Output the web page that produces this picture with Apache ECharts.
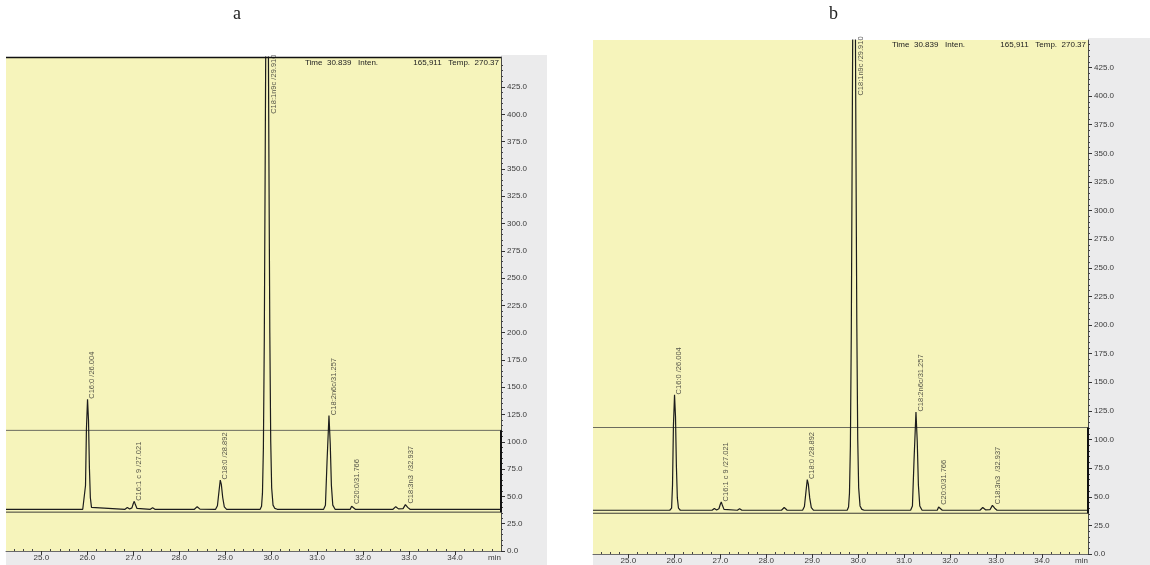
<!DOCTYPE html>
<html>
<head>
<meta charset="utf-8">
<script src="https://cdn.jsdelivr.net/npm/echarts@6/dist/echarts.min.js"></script>
<style>
  html, body { margin: 0; padding: 0; background: #ffffff; }
  #chart { width: 1150px; height: 565px; }
</style>
</head>
<body>
<div id="chart"></div>
<script>
// Retention time (min) and detector signal of the FAME chromatogram
const TIME = [
  24.23, 25.90, 25.94, 25.96, 25.98, 26.004, 26.025, 26.045, 26.065, 26.09, 26.13,
  26.82, 26.87, 26.92, 26.97, 27.00, 27.021, 27.045, 27.08, 27.12,
  27.37, 27.42, 27.47,
  28.33, 28.39, 28.45,
  28.79, 28.83, 28.865, 28.892, 28.915, 28.945, 28.98, 29.03,
  29.76, 29.79, 29.81, 29.83, 29.85, 29.87, 29.89, 29.910, 29.93, 29.95, 29.97, 29.99, 30.01, 30.04, 30.08, 30.13,
  30.30, 30.33, 30.36,
  31.14, 31.18, 31.215, 31.257, 31.285, 31.31, 31.34, 31.39,
  31.72, 31.75, 31.766, 31.79, 31.83,
  32.65, 32.71, 32.77,
  32.87, 32.92, 32.937, 32.97, 33.02,
  35.00
];
const SIGNAL = [
  38.2, 38.2, 40, 60, 112, 139, 120, 76, 49, 40, 38.2,
  38.2, 39.8, 38.5, 39.5, 43.5, 45.5, 42.5, 39, 38.2,
  38.2, 39.6, 38.2,
  38.2, 40.6, 38.4,
  38.2, 41.5, 55, 65, 61, 49, 40.5, 38.2,
  38.2, 41, 53, 94, 194, 362, 541, 620, 541, 362, 200, 100, 58, 42, 39, 38.2,
  38.2, 39.2, 38.2,
  38.2, 42, 82, 124, 98, 60, 42, 38.2,
  38.2, 41, 42.5, 40.5, 38.2,
  38.2, 40.6, 38.6,
  38.8, 42.5, 43, 40, 38.2,
  38.2
];

// Integrated peaks: name / retention time, where the name is written
const PEAK_NAMES = [
  'C16:0 /26.004', 'C16:1 c 9 /27.021', 'C18:0 /28.892', 'C18:1n9c /29.910',
  'C18:2n6c/31.257', 'C20:0/31.766', 'C18:3n3  /32.937'
];
const PEAK_TIMES = [26.004, 27.021, 28.892, 29.910, 31.257, 31.766, 32.937];
const PEAK_LABEL_LEVEL = [139, 45.5, 65, 400, 124, 42.5, 43];

// Level lines drawn across the trace window
const UPPER_LEVEL = 110.5;
const LOWER_LEVEL = 35.6;

// Axis ticks
const X_RANGE = [24.23, 35.0];
const X_TICKS = [25, 26, 27, 28, 29, 30, 31, 32, 33, 34];
const X_UNIT = 'min';
const Y_TICKS = [0, 25, 50, 75, 100, 125, 150, 175, 200, 225, 250, 275, 300, 325, 350, 375, 400, 425];
const Y_TOPS = [452.5, 449];

// Status line of the acquisition window
const STATUS_LEFT = 'Time  30.839   Inten.';
const STATUS_RIGHT = '165,911   Temp.  270.37';
const PANEL_TITLES = ['a', 'b'];

const minorX = [];
for (let v = 24.4; v < X_RANGE[1] + 1e-6; v += 0.2) {
  const r = Math.round(v * 10) / 10;
  if (Math.abs(r - Math.round(r)) > 1e-6) minorX.push(r);
}
const minorY = [];
for (let v = 5; v <= 450; v += 5) if (v % 25 !== 0) minorY.push(v);

const FONT = '"Liberation Sans", Arial, sans-serif';
const YELLOW = '#f6f4bb';
const FRAME_GRAY = '#ebebec';

const panels = [
  { left: 6,   top: 57, width: 495, height: 494, titleX: 238, statusY: 58, topRule: true },
  { left: 593, top: 40, width: 495, height: 514, titleX: 834, statusY: 40, topRule: false }
];

const trace = TIME.map((t, i) => [t, SIGNAL[i]]);

const grid = [], xAxis = [], yAxis = [], series = [], graphic = [];

panels.forEach((p, g) => {
  const right = p.left + p.width;
  const bottom = p.top + p.height;

  grid.push({
    left: p.left, top: p.top, width: p.width, height: p.height,
    show: true, backgroundColor: YELLOW, borderWidth: 0
  });

  // major x ticks with labels
  xAxis.push({
    gridIndex: g, type: 'value', min: X_RANGE[0], max: X_RANGE[1],
    axisLine: { show: true, onZero: false, lineStyle: { color: '#6a6a6a', width: 1 } },
    axisTick: { show: true, customValues: X_TICKS, length: 4, lineStyle: { color: '#333' } },
    axisLabel: {
      customValues: X_TICKS.concat([X_RANGE[1]]),
      formatter: v => (Math.abs(v - X_RANGE[1]) < 1e-6 ? X_UNIT : v.toFixed(1)),
      fontSize: 8, color: '#3a3a3a', fontFamily: FONT, margin: 3,
      alignMaxLabel: 'right'
    },
    splitLine: { show: false }
  });
  // minor x ticks
  xAxis.push({
    gridIndex: g, type: 'value', min: X_RANGE[0], max: X_RANGE[1],
    axisLine: { show: false },
    axisTick: { show: true, customValues: minorX, length: 2, lineStyle: { color: '#444' } },
    axisLabel: { show: false },
    splitLine: { show: false }
  });

  // major y ticks with labels (right side)
  yAxis.push({
    gridIndex: g, type: 'value', position: 'right', min: 0, max: Y_TOPS[g],
    axisLine: { show: true, lineStyle: { color: '#4a4a4a', width: 1 } },
    axisTick: { show: true, customValues: Y_TICKS, length: 4, lineStyle: { color: '#333' } },
    axisLabel: {
      customValues: Y_TICKS, formatter: v => v.toFixed(1),
      fontSize: 8, color: '#3a3a3a', fontFamily: FONT, margin: 6
    },
    splitLine: { show: false }
  });
  // minor y ticks
  yAxis.push({
    gridIndex: g, type: 'value', position: 'right', min: 0, max: Y_TOPS[g],
    axisLine: { show: false },
    axisTick: { show: true, customValues: minorY, length: 2, lineStyle: { color: '#444' } },
    axisLabel: { show: false },
    splitLine: { show: false }
  });

  const xi = g * 2, yi = g * 2;

  series.push({
    type: 'line', xAxisIndex: xi, yAxisIndex: yi, data: trace,
    showSymbol: false, symbol: 'none', clip: true, animation: false,
    lineStyle: { color: '#1c1c1c', width: 1.2 }, z: 3
  });
  series.push({
    type: 'line', xAxisIndex: xi, yAxisIndex: yi,
    data: [[X_RANGE[0], UPPER_LEVEL], [X_RANGE[1], UPPER_LEVEL]],
    symbol: 'none', animation: false, silent: true,
    lineStyle: { color: '#6b6b5e', width: 1 }, z: 2
  });
  series.push({
    type: 'line', xAxisIndex: xi, yAxisIndex: yi,
    data: [[X_RANGE[0], LOWER_LEVEL], [X_RANGE[1], LOWER_LEVEL]],
    symbol: 'none', animation: false, silent: true,
    lineStyle: { color: '#3b3b33', width: 1 }, z: 2
  });
  // bracket on the axis between the two level lines
  series.push({
    type: 'line', xAxisIndex: xi, yAxisIndex: yi, clip: false,
    data: [[X_RANGE[1], LOWER_LEVEL], [X_RANGE[1], UPPER_LEVEL]],
    symbol: 'none', animation: false, silent: true,
    lineStyle: { color: '#111', width: 2 }, z: 4
  });
  // peak names, written upward beside each peak; the off-scale peak's name
  // sits beside its flank, so it is pushed a little further right
  series.push({
    type: 'scatter', xAxisIndex: xi, yAxisIndex: yi, animation: false, silent: true,
    symbol: 'rect', symbolSize: 1, itemStyle: { color: 'rgba(0,0,0,0)' }, z: 5,
    data: PEAK_NAMES.map((n, i) => {
      const offScale = PEAK_LABEL_LEVEL[i] < SIGNAL[TIME.indexOf(PEAK_TIMES[i])];
      return {
        name: n,
        value: [PEAK_TIMES[i], PEAK_LABEL_LEVEL[i]],
        label: { position: offScale ? [3, 0] : [1, 0] }
      };
    }),
    label: {
      show: true, formatter: q => q.name, rotate: 90,
      align: 'left', verticalAlign: 'top',
      fontSize: 7.5, color: '#2a2a2a', fontFamily: FONT
    },
    labelLayout: { hideOverlap: false }
  });

  // window frame around the plot
  graphic.push({
    type: 'rect', z: -5, silent: true,
    shape: { x: right, y: p.top - 2, width: (g === 0 ? 547 : 1150) - right, height: 565 - p.top + 2 },
    style: { fill: FRAME_GRAY }
  });
  graphic.push({
    type: 'rect', z: -5, silent: true,
    shape: { x: p.left, y: bottom, width: (g === 0 ? 547 : 1150) - p.left, height: 565 - bottom },
    style: { fill: FRAME_GRAY }
  });
  if (p.topRule) {
    graphic.push({
      type: 'line', z: 10, silent: true,
      shape: { x1: p.left, y1: p.top + 0.5, x2: right, y2: p.top + 0.5 },
      style: { stroke: '#111', lineWidth: 1.5 }
    });
  }
  graphic.push({
    type: 'text', z: 10, silent: true, x: right - 196, y: p.statusY + 1,
    style: { text: STATUS_LEFT, fill: '#222', font: '8px ' + FONT, verticalAlign: 'top' }
  });
  graphic.push({
    type: 'text', z: 10, silent: true, x: right - 2, y: p.statusY + 1,
    style: { text: STATUS_RIGHT, fill: '#222', font: '8px ' + FONT, align: 'right', verticalAlign: 'top' }
  });
  graphic.push({
    type: 'text', z: 10, silent: true, left: p.titleX - 5, top: 5,
    style: { text: PANEL_TITLES[g], fill: '#222', font: '18px "Liberation Serif", "Times New Roman", serif' }
  });
});

const chart = echarts.init(document.getElementById('chart'), null, { renderer: 'canvas' });
chart.setOption({
  animation: false,
  backgroundColor: '#ffffff',
  grid, xAxis, yAxis, series, graphic
});
</script>
</body>
</html>
